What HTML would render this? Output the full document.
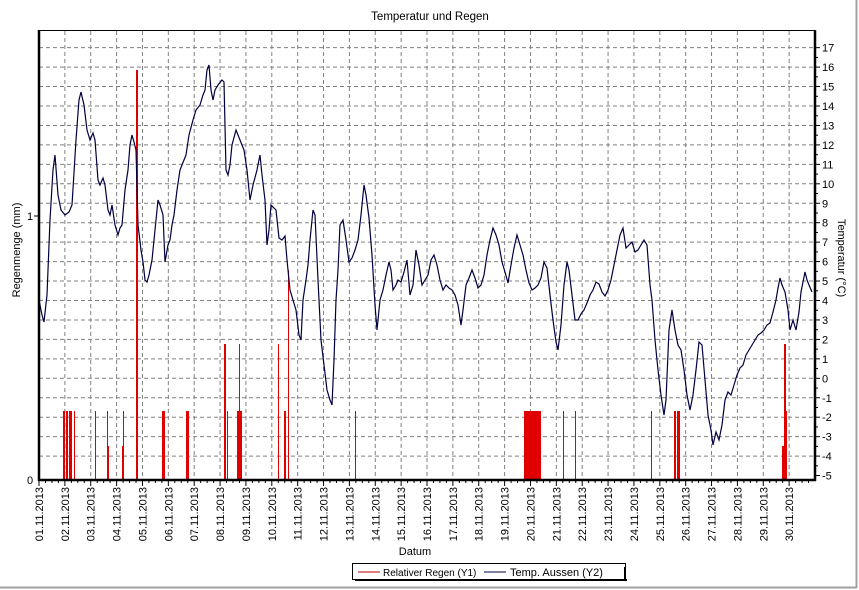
<!DOCTYPE html>
<html><head><meta charset="utf-8"><style>
html,body{margin:0;padding:0;background:#fff;width:859px;height:590px;overflow:hidden}
svg{display:block;font-family:"Liberation Sans",sans-serif}
</style></head><body>
<svg id="s" width="859" height="590" xmlns="http://www.w3.org/2000/svg">
<rect x="0" y="0" width="859" height="590" fill="#fff"/>
<line x1="0" y1="587.5" x2="857" y2="587.5" stroke="#a0a0a0" stroke-width="2"/>
<line x1="856.5" y1="0" x2="856.5" y2="588" stroke="#a0a0a0" stroke-width="2"/>
<text x="430" y="20" font-size="11.5" text-anchor="middle">Temperatur und Regen</text>
<g id="grid"></g>
<g id="rain" fill="#e00000" stroke="none"></g>
<polyline id="temp" fill="none" stroke="#000040" stroke-width="1.2"/>
<rect x="39" y="30.5" width="776" height="449.5" fill="none" stroke="#000" stroke-width="1"/>
<line x1="39" y1="30" x2="39" y2="481" stroke="#000" stroke-width="2.5"/>
<line x1="815" y1="30" x2="815" y2="481" stroke="#000" stroke-width="2.5"/>
<line x1="38" y1="480" x2="816" y2="480" stroke="#000" stroke-width="2.5"/>
<g id="lab" font-size="11"></g>
<text x="0" y="0" font-size="11" transform="translate(20,250) rotate(-90)" text-anchor="middle">Regenmenge (mm)</text>
<text x="0" y="0" font-size="11" transform="translate(838,258) rotate(90)" text-anchor="middle">Temperatur (°C)</text>
<text x="415" y="555" font-size="11" text-anchor="middle">Datum</text>
<rect x="352.5" y="563.5" width="273" height="16" fill="#fff" stroke="#000"/>
<line x1="625" y1="567" x2="625" y2="581" stroke="#000" stroke-width="2"/>
<line x1="355" y1="580" x2="627" y2="580" stroke="#000" stroke-width="2"/>
<line x1="358" y1="572" x2="380" y2="572" stroke="#c00000"/>
<text x="383" y="576" font-size="10">Relativer Regen (Y1)</text>
<line x1="484" y1="572" x2="506" y2="572" stroke="#000040"/>
<text x="510" y="576" font-size="11">Temp. Aussen (Y2)</text>
</svg>
<script>
var NS="http://www.w3.org/2000/svg";
function el(p,t,a,txt){var e=document.createElementNS(NS,t);for(var k in a)e.setAttribute(k,a[k]);if(txt!==undefined)e.textContent=txt;p.appendChild(e);return e;}
var g=document.getElementById('grid'),lab=document.getElementById('lab');
var X0=39,DX=776/30;
function ty(t){return 378.3-t*19.45;}
for(var t=-5;t<=17;t++){var y=ty(t);
 if(t>-5)el(g,'line',{x1:39,x2:815,y1:y,y2:y,stroke:'#808080','stroke-dasharray':'4,3'});
 el(g,'line',{x1:815,x2:820,y1:y,y2:y,stroke:'#000'});
 el(lab,'text',{x:822,y:y+4},String(t));
 if(t<17)el(g,'line',{x1:815,x2:818,y1:y-9.7,y2:y-9.7,stroke:'#000'});
}
for(var d=1;d<30;d++){var x=X0+d*DX;
 el(g,'line',{x1:x,x2:x,y1:31,y2:480,stroke:'#808080','stroke-dasharray':'4,3'});}
for(var d=0;d<30;d++){var x=X0+d*DX;
 el(g,'line',{x1:x,x2:x,y1:480,y2:486,stroke:'#000'});
 for(var q=1;q<4;q++)el(g,'line',{x1:x+q*DX/4,x2:x+q*DX/4,y1:480,y2:483,stroke:'#000'});
 var s=(d<9?'0':'')+(d+1)+'.11.2013';
 el(lab,'text',{x:0,y:0,transform:'translate('+(x+4)+',487) rotate(-90)','text-anchor':'end'},s);}
el(lab,'text',{x:27,y:484},'0');el(lab,'text',{x:27,y:220},'1');
el(g,'line',{x1:34,x2:39,y1:216,y2:216,stroke:'#000'});
var r=document.getElementById('rain');
var bars=[[63,2,411],[66,2,411],[69,3,411],[74,1,411],[95,1,411],[107,1,411],[108,1,446],[123,1,411],[122,1,446],[136,2,70],[162,3,411],[186,3,411],[224,2,344],[227,1,411],[237,2,411],[239,1,344],[240,2,411],[278,1,344],[284,2,411],[288,1,270],[355,1,411],[524,17,411],[563,1,411],[575,1,411],[651,1,411],[674,2,411],[677,3,411],[782,2,446],[784,2,344],[786,1,411]];
bars.forEach(function(b){el(r,'rect',{x:b[0],y:b[2],width:b[1],height:480-b[2]});});
var pts=[39,300,42,315,44,322,47,295,50,220,53,170,55,155,58,195,61,210,65,215,69,212,72,205,76,140,79,100,81,92,84,105,87,130,90,140,93,133,95,140,98,180,100,185,103,178,105,185,108,210,110,215,112,205,115,225,118,235,120,228,122,225,125,190,128,170,130,145,132,135,134,142,136,150,138,225,141,250,143,262,145,280,147,282,149,275,152,260,155,230,158,200,160,205,163,215,165,262,168,245,170,240,172,225,174,215,177,190,180,170,182,165,186,155,189,135,193,120,196,110,200,105,203,95,205,90,207,70,209,65,211,90,213,100,215,90,218,85,222,80,224,82,226,170,228,175,230,165,232,145,236,130,240,140,244,150,247,170,250,200,253,185,257,170,260,155,262,175,265,200,267,245,269,230,271,205,274,208,276,210,279,238,282,240,285,236,287,260,290,290,293,300,296,310,299,335,301,340,303,300,306,280,308,265,310,240,313,210,315,215,318,280,321,340,324,365,327,390,330,400,332,405,334,360,336,300,338,270,340,225,343,220,346,240,349,262,352,258,355,250,358,240,361,215,364,185,366,195,369,218,372,255,375,305,377,330,380,300,383,290,386,275,389,262,391,270,393,290,396,285,398,280,401,282,404,272,407,260,410,295,413,285,416,250,419,265,422,285,425,280,428,275,431,260,434,255,437,265,440,280,443,290,446,285,449,288,452,290,455,295,458,305,461,325,463,310,466,285,469,278,472,270,475,278,478,288,481,285,484,275,487,255,490,240,493,228,496,235,499,245,502,262,505,272,508,283,511,265,514,248,517,235,520,245,523,255,526,270,529,283,532,290,535,288,538,285,541,278,544,262,547,268,550,295,553,320,556,342,558,350,561,325,564,285,567,262,569,270,572,295,575,320,578,320,581,314,584,310,587,303,590,295,593,290,596,282,599,284,602,292,605,296,608,290,611,280,614,265,617,250,620,235,623,228,626,248,629,245,632,242,635,252,638,250,641,245,644,240,647,245,650,285,652,300,655,340,658,370,661,395,664,415,666,400,669,330,672,310,675,330,678,345,681,350,684,370,687,395,690,410,693,395,696,370,699,342,702,345,705,380,708,415,711,430,713,445,716,432,719,440,722,425,725,400,728,392,731,395,734,385,737,375,740,368,743,365,746,355,749,350,752,345,755,340,758,335,761,333,764,330,767,325,770,323,773,312,776,300,778,288,780,278,782,285,785,292,788,310,790,330,793,320,796,330,799,312,801,292,803,282,805,272,807,280,809,285,812,292];
var ps=[];for(var i=0;i<pts.length;i+=2)ps.push(pts[i]+','+pts[i+1]);
document.getElementById('temp').setAttribute('points',ps.join(' '));
</script>
</body></html>
